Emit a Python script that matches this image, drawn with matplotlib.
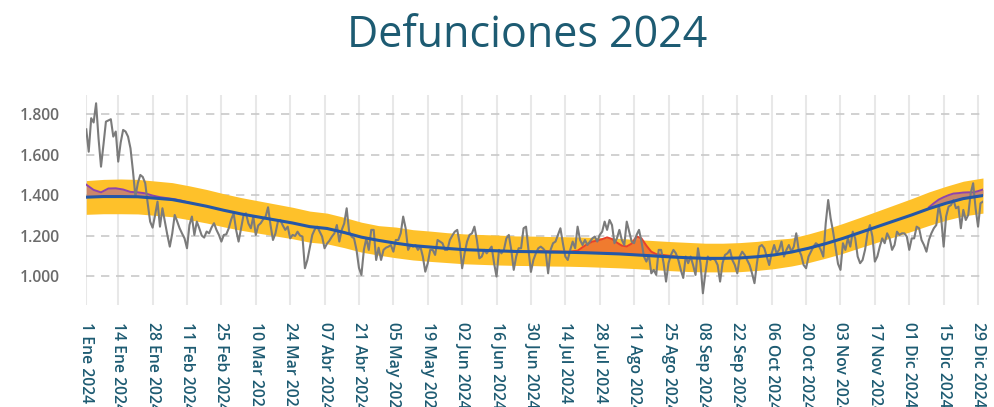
import numpy as np
import matplotlib
matplotlib.use("Agg")
import matplotlib.pyplot as plt
from matplotlib.ticker import FuncFormatter

plt.rcParams["font.family"] = ["Open Sans", "DejaVu Sans"]

# ── data (day index 0 = 1 Ene 2024) ─────────────────────────────────────────
observed = [
    1726, 1615, 1781, 1760, 1855, 1680, 1541, 1650, 1764, 1770,
    1776, 1690, 1715, 1566, 1660, 1723, 1715, 1690, 1632, 1520,
    1393, 1460, 1500, 1490, 1459, 1360, 1269, 1239, 1300, 1368,
    1244, 1335, 1269, 1203, 1145, 1210, 1302, 1270, 1236, 1210,
    1186, 1137, 1252, 1294, 1203, 1269, 1236, 1200, 1190, 1220,
    1211, 1240, 1261, 1228, 1203, 1170, 1203, 1206, 1236, 1280,
    1310, 1228, 1170, 1236, 1300, 1310, 1260, 1236, 1294, 1203,
    1250, 1261, 1280, 1294, 1340, 1252, 1178, 1210, 1269, 1277,
    1250, 1228, 1244, 1186, 1203, 1198, 1219, 1200, 1195, 1038,
    1079, 1140, 1203, 1230, 1244, 1219, 1195, 1137, 1160, 1175,
    1195, 1211, 1252, 1170, 1228, 1260, 1335, 1219, 1195, 1186,
    1129, 1040, 1005, 1129, 1186, 1129, 1228, 1228, 1079, 1140,
    1079, 1129, 1140, 1145, 1153, 1120, 1178, 1178, 1211, 1294,
    1236, 1129, 1153, 1145, 1153, 1129, 1145, 1096, 1021, 1063,
    1129, 1129, 1104, 1178, 1170, 1162, 1129, 1129, 1178, 1200,
    1219, 1228, 1162, 1038, 1112, 1170, 1203, 1211, 1244, 1178,
    1087, 1096, 1129, 1112, 1129, 1145, 1063, 997, 1129, 1112,
    1129, 1186, 1203, 1129, 1030, 1096, 1137, 1137, 1236, 1244,
    1129, 1020, 1079, 1112, 1137, 1145, 1135, 1120, 1013, 1129,
    1162, 1170, 1203, 1236, 1162, 1096, 1079, 1129, 1170, 1137,
    1244, 1178, 1153, 1178, 1153, 1170, 1186, 1195, 1170, 1203,
    1219, 1269, 1228, 1277, 1252, 1162, 1186, 1228, 1178, 1153,
    1269, 1219, 1170, 1162, 1203, 1228, 1170, 1096, 1071, 1104,
    1013, 1030, 1005, 1129, 1129, 1063, 972, 1063, 1104, 1129,
    1112, 1079, 1030, 990, 1096, 1063, 1096, 1054, 1005, 1137,
    1063, 914, 1013, 1096, 1079, 1087, 1079, 1054, 972, 1063,
    1104, 1112, 1129, 1079, 1054, 1013, 1096, 1120, 1104, 1079,
    1054, 1013, 964, 1063, 1145, 1153, 1137, 1096, 1054, 1112,
    1153, 1112, 1129, 1170, 1096, 1129, 1153, 1120, 1145, 1211,
    1129, 1104, 1054, 1038, 1096, 1120, 1145, 1162, 1153, 1129,
    1096, 1261, 1376, 1285, 1219, 1140, 1060, 1030, 1162, 1129,
    1186, 1145, 1219, 1186, 1096, 1063, 1079, 1129, 1211, 1252,
    1195, 1071, 1096, 1145, 1186, 1162, 1211, 1186, 1129, 1153,
    1219, 1203, 1211, 1211, 1195, 1129, 1186, 1186, 1244, 1236,
    1178, 1153, 1120, 1178, 1211, 1236, 1252, 1351, 1285, 1145,
    1294, 1343, 1351, 1376, 1335, 1343, 1236, 1327, 1277, 1302,
    1409, 1459, 1335, 1244, 1360, 1368,
]

exp_days = [0, 7, 14, 21, 28, 35, 42, 49, 56, 63, 70, 77, 84, 91, 98, 105,
            112, 119, 126, 133, 140, 147, 154, 161, 168, 175, 182, 189, 196,
            203, 210, 217, 224, 231, 238, 245, 252, 259, 266, 273, 280, 287,
            294, 301, 308, 315, 322, 329, 336, 343, 350, 357, 365]
expected = [1390, 1393, 1393, 1392, 1385, 1378, 1362, 1345, 1325, 1307, 1292,
            1277, 1262, 1244, 1235, 1215, 1192, 1176, 1162, 1150, 1143, 1136,
            1130, 1127, 1124, 1121, 1120, 1118, 1117, 1115, 1112, 1109, 1104,
            1099, 1094, 1090, 1087, 1087, 1089, 1095, 1104, 1118, 1137, 1160,
            1186, 1215, 1244, 1273, 1302, 1333, 1360, 1383, 1398]
upper = [1472, 1478, 1480, 1478, 1470, 1462, 1446, 1428, 1407, 1388, 1372,
         1356, 1340, 1321, 1311, 1290, 1266, 1249, 1242, 1229, 1222, 1214,
         1208, 1205, 1202, 1198, 1197, 1195, 1194, 1192, 1189, 1186, 1180,
         1175, 1170, 1166, 1162, 1162, 1165, 1171, 1180, 1187, 1208, 1232,
         1260, 1290, 1321, 1352, 1383, 1416, 1444, 1469, 1485]
lower = [1305, 1308, 1308, 1307, 1300, 1293, 1278, 1262, 1243, 1226, 1212,
         1198, 1184, 1167, 1159, 1140, 1118, 1103, 1090, 1079, 1072, 1066,
         1060, 1057, 1054, 1052, 1051, 1049, 1048, 1046, 1043, 1040, 1036,
         1031, 1026, 1022, 1020, 1020, 1021, 1027, 1036, 1049, 1066, 1088,
         1112, 1140, 1167, 1194, 1221, 1250, 1276, 1297, 1311]

# excess attributable to temperature (curve level)
cold_jan_days = [0, 3, 6, 9, 12, 15, 18, 21, 24, 27, 30, 33, 36, 39, 42]
cold_jan = [1452, 1426, 1414, 1433, 1434, 1428, 1416, 1414, 1409, 1398,
            1390, 1385, 1380, 1372, 1362]
heat_days = [184, 190, 196, 200, 202, 204, 206, 208, 210, 212, 214, 216,
             218, 220, 222, 224, 226, 228, 230, 232, 236, 240]
heat = [1123, 1122, 1120, 1125, 1142, 1158, 1170, 1175, 1182, 1191, 1183,
        1165, 1150, 1146, 1160, 1196, 1186, 1150, 1120, 1108, 1102, 1096]
cold_dec_days = [343, 345, 347, 349, 351, 353, 355, 357, 359, 361, 363, 365]
cold_dec = [1340, 1360, 1378, 1390, 1400, 1408, 1410, 1413, 1414, 1414,
            1420, 1428]

tick_days = [0] + list(range(13, 364, 14))
tick_labels = ["1 Ene 2024", "14 Ene 2024", "28 Ene 2024", "11 Feb 2024",
               "25 Feb 2024", "10 Mar 2024", "24 Mar 2024", "07 Abr 2024",
               "21 Abr 2024", "05 May 2024", "19 May 2024", "02 Jun 2024",
               "16 Jun 2024", "30 Jun 2024", "14 Jul 2024", "28 Jul 2024",
               "11 Ago 2024", "25 Ago 2024", "08 Sep 2024", "22 Sep 2024",
               "06 Oct 2024", "20 Oct 2024", "03 Nov 2024", "17 Nov 2024",
               "01 Dic 2024", "15 Dic 2024", "29 Dic 2024"]
y_ticks = [1000, 1200, 1400, 1600, 1800]

TEAL = "#1d5b72"

# ── figure ──────────────────────────────────────────────────────────────────
fig = plt.figure(figsize=(9.95, 4.07), dpi=100)
ax = fig.add_axes([0.0867, 0.2506, 0.9012, 0.516])

ax.fill_between(exp_days, lower, upper, color="#fec12a", lw=0, zorder=2)

for dd, curve, fc, ec, a in [(cold_jan_days, cold_jan, "#9b4fa8", "#8e44ad", 0.5),
                             (heat_days, heat, "#ef7430", "#e8412c", 0.9),
                             (cold_dec_days, cold_dec, "#9b4fa8", "#8e44ad", 0.5)]:
    base = np.interp(dd, exp_days, expected)
    ax.fill_between(dd, base, curve, color=fc, alpha=a, lw=0, zorder=3)
    ax.plot(dd, curve, color=ec, lw=1.4, zorder=3.5)

days = np.arange(len(observed))
ax.plot(days, observed, color="#7b7b7b", lw=1.5, zorder=4)
ax.plot(exp_days, expected, color="#2557a7", lw=2.2, zorder=5)

ax.set_xlim(0, 365)
ax.set_ylim(856, 1896)
ax.set_xticks(tick_days)
ax.set_xticklabels(tick_labels, rotation=270, color=TEAL, fontsize=11.3,
                   fontweight="semibold", va="top", ha="center")
ax.set_yticks(y_ticks)
ax.yaxis.set_major_formatter(FuncFormatter(lambda v, _: f"{v:,.0f}".replace(",", ".")))
for lab in ax.get_yticklabels():
    lab.set_color("#6b6b6b")
    lab.set_fontsize(11.3)
    lab.set_fontweight("semibold")
ax.tick_params(axis="x", length=0, pad=12)
ax.tick_params(axis="y", length=0, pad=19)

for s in ax.spines.values():
    s.set_visible(False)
ax.grid(axis="x", color="#e8e8e8", lw=1.5, zorder=0)
ax.grid(axis="y", color="#c9c9c9", lw=1.2, ls=(0, (5, 4)), zorder=1)
ax.set_axisbelow(True)

fig.text(0.53, 0.912, "Defunciones 2024", ha="center", va="center",
         fontsize=31, color=TEAL)

fig.savefig("out.png", dpi=100)
